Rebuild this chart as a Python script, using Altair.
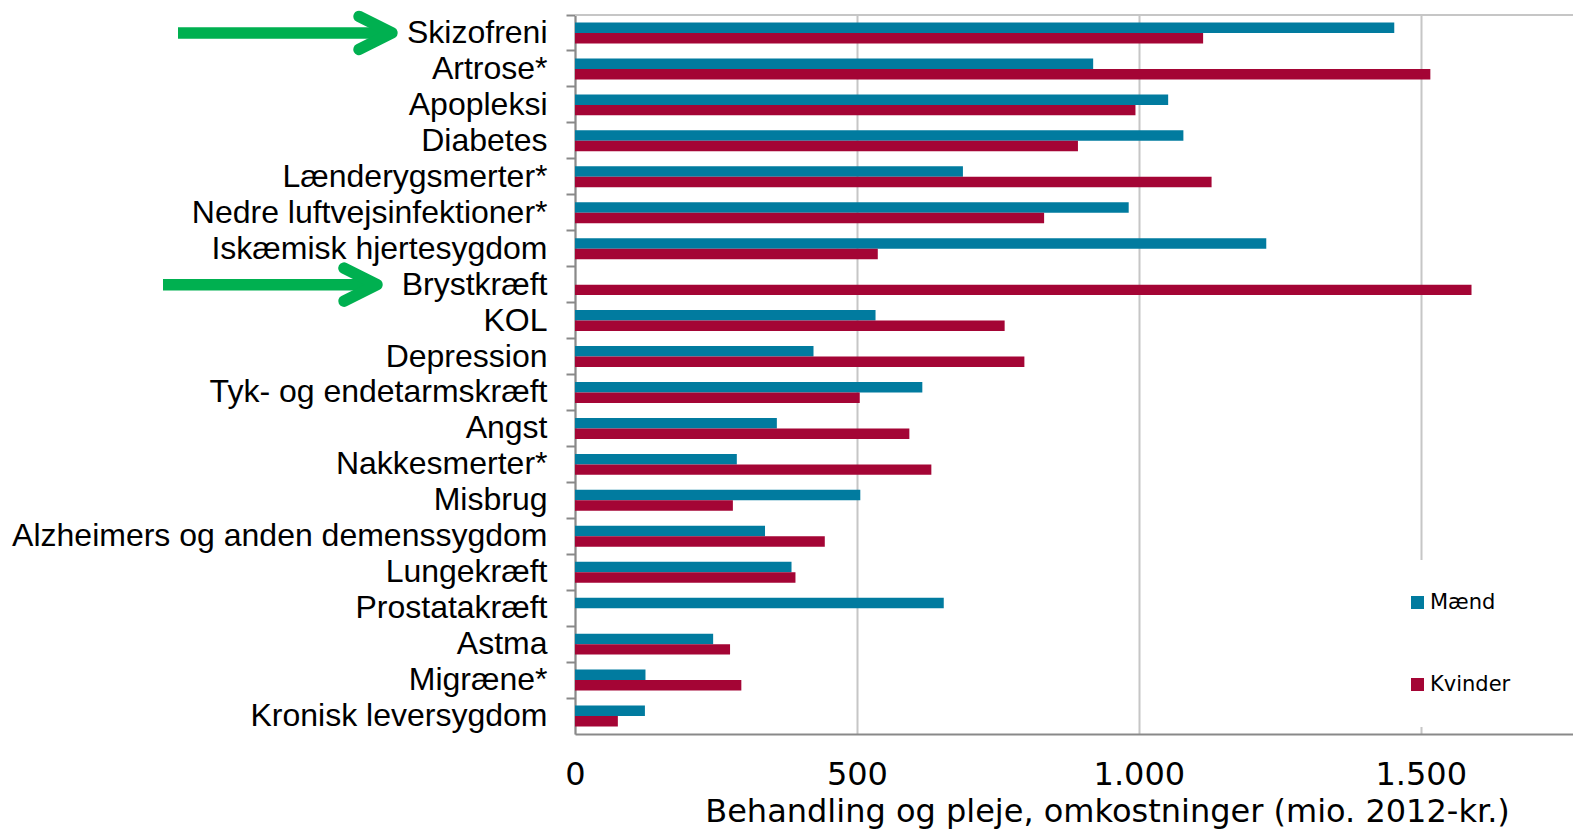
import altair as alt
import pandas as pd

categories = [
    "Skizofreni", "Artrose*", "Apopleksi", "Diabetes", "Lænderygsmerter*",
    "Nedre luftvejsinfektioner*", "Iskæmisk hjertesygdom", "Brystkræft", "KOL",
    "Depression", "Tyk- og endetarmskræft", "Angst", "Nakkesmerter*", "Misbrug",
    "Alzheimers og anden demenssygdom", "Lungekræft", "Prostatakræft", "Astma",
    "Migræne*", "Kronisk leversygdom",
]
maend = [1453, 919, 1052, 1079, 688, 982, 1226, 0, 533, 423, 616, 358, 287, 506, 337, 384, 654, 245, 125, 124]
kvinder = [1114, 1517, 994, 892, 1129, 832, 537, 1590, 762, 797, 505, 593, 632, 280, 443, 391, 0, 275, 295, 76]
series = ["Mænd", "Kvinder"]
colors = ["#017b9f", "#a40535"]
x_ticks = [0, 500, 1000, 1500]
x_title = "Behandling og pleje, omkostninger (mio. 2012-kr.)"
arrow_targets = ["Skizofreni", "Brystkræft"]

rows = []
for c, m, k in zip(categories, maend, kvinder):
    rows.append({"sygdom": c, "køn": series[0], "værdi": m})
    rows.append({"sygdom": c, "køn": series[1], "værdi": k})
df = pd.DataFrame(rows)

W, H = 998, 719
XMAX = 1770
GREEN = "#00b050"

y_enc = alt.Y(
    "sygdom:N",
    scale=alt.Scale(domain=categories, paddingInner=0, paddingOuter=0),
    axis=alt.Axis(
        title=None, labelFont="Liberation Sans", labelFontSize=32, labelColor="#000000",
        labelPadding=19, labelLimit=800, labelOverlap=False, bandPosition=0,
        tickSize=9, tickWidth=2, tickColor="#898989", domainColor="#898989",
        domainWidth=2, grid=False,
    ),
)

bars = alt.Chart(df).mark_bar().encode(
    y=y_enc,
    yOffset=alt.YOffset("køn:N", scale=alt.Scale(domain=series, paddingInner=0, paddingOuter=0.712)),
    x=alt.X(
        "værdi:Q",
        scale=alt.Scale(domain=[0, XMAX], nice=False, zero=True),
        axis=alt.Axis(
            values=x_ticks, title=x_title, labelExpr="replace(format(datum.value, ','), ',', '.')",
            labelFont="DejaVu Sans", labelFontSize=32, labelColor="#000000",
            labelBaseline="alphabetic", labelPadding=50, labelFlush=False,
            ticks=False, tickSize=0,
            domainColor="#898989", domainWidth=2, grid=True, gridColor="#c6c6c6", gridWidth=2,
            titleFont="DejaVu Sans", titleFontSize=32, titleFontWeight="normal",
            titleColor="#000000", titleX=532, titleY=87, titleAlign="center",
            titleBaseline="alphabetic",
        ),
    ),
    color=alt.Color(
        "køn:N",
        scale=alt.Scale(domain=series, range=colors),
        legend=alt.Legend(
            title=None, orient="none", legendX=800, legendY=545, padding=32,
            fillColor="#ffffff", symbolType="square", symbolSize=169, symbolStrokeWidth=0,
            labelFont="DejaVu Sans", labelFontSize=21, labelColor="#000000",
            labelOffset=2, rowPadding=60, zindex=1,
        ),
    ),
)

top_border = alt.Chart(pd.DataFrame({"k": [0]})).mark_rule(color="#c6c6c6", strokeWidth=2).encode(
    x=alt.value(0), x2=alt.value(W + 8), y=alt.value(0)
)

def arrow(target, x_tail, x_tip):
    d = pd.DataFrame({"sygdom": [target]})
    shaft = alt.Chart(d).mark_rule(color=GREEN, strokeWidth=11.5, strokeCap="butt").encode(
        y=alt.Y("sygdom:N", scale=alt.Scale(domain=categories, paddingInner=0, paddingOuter=0)),
        x=alt.value(x_tail), x2=alt.value(x_tip - 4),
    )
    head = alt.Chart(d).mark_point(
        shape="M-1,-0.5L0,0L-1,0.5", filled=False, stroke=GREEN, strokeWidth=11.5,
        strokeCap="round", strokeJoin="round", size=4356, opacity=1,
    ).encode(
        y=alt.Y("sygdom:N", scale=alt.Scale(domain=categories, paddingInner=0, paddingOuter=0)),
        x=alt.value(x_tip),
    )
    return shaft + head

chart = alt.layer(
    bars, top_border,
    arrow(arrow_targets[0], -397, -183),
    arrow(arrow_targets[1], -412, -198),
).properties(
    width=W, height=H,
    autosize=alt.AutoSizeParams(type="none"),
    padding={"left": 567, "top": 7, "right": 0, "bottom": 95},
    background="#ffffff",
).configure_view(stroke=None)

chart.save("out.html", embed_options={"renderer": "svg", "actions": False})
